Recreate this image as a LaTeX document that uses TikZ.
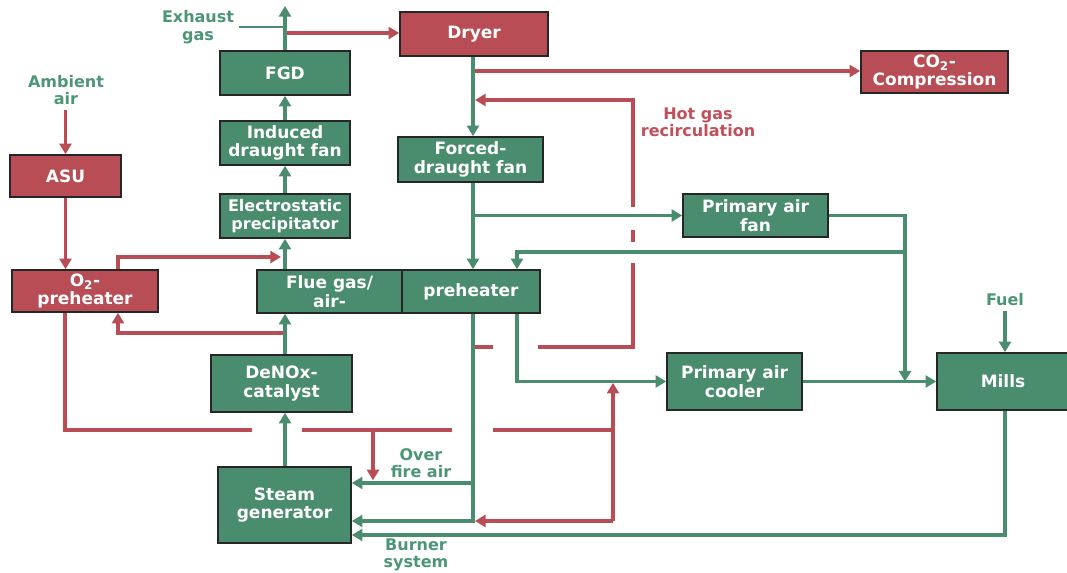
\documentclass[tikz,border=0pt]{standalone}
\usepackage{fontspec}
\setmainfont{DejaVu Sans}
\usetikzlibrary{arrows.meta}
\definecolor{boxred}{HTML}{B84D56}
\definecolor{boxgreen}{HTML}{4A8C6E}
\definecolor{labgreen}{HTML}{4C9676}
\definecolor{labred}{HTML}{C24F5A}

\begin{document}
\begin{tikzpicture}[x=0.75pt, y=-0.75pt,
  box/.style={draw=black!85, line width=1.2pt, text=white, align=center, inner sep=1pt,
    font=\bfseries\fontsize{12.75}{14}\selectfont},
  gbox/.style={box, fill=boxgreen},
  rbox/.style={box, fill=boxred},
  lab/.style={align=center, font=\bfseries\fontsize{12}{13}\selectfont},
  gflow/.style={draw=boxgreen, line width=2.7pt},
  rflow/.style={draw=boxred, line width=2.7pt},
  tip/.style={-{Triangle[length=8pt,width=9pt]}}]
  \useasboundingbox (0,0) rectangle (1067,573);

  % Units
  \node[rbox, minimum width=83.25pt, minimum height=31.5pt] (asu) at (65.5,176) {ASU};
  \node[rbox, minimum width=109.5pt, minimum height=31.5pt] (o2pre) at (85,291) {O\textsubscript{2}-\\preheater};
  \node[gbox, minimum width=97.5pt, minimum height=33pt] (fgd) at (285,73) {FGD};
  \node[gbox, minimum width=97.5pt, minimum height=33pt] (idfan) at (285,143) {Induced\\draught fan};
  \node[gbox, minimum width=97.5pt, minimum height=33pt, font=\bfseries\fontsize{12}{14}\selectfont] (esp) at (285,216) {Electrostatic\\precipitator};
  \node[gbox, minimum width=108.75pt, minimum height=32.25pt] (flue) at (329.5,291.5) {Flue gas/\\air-};
  \node[gbox, minimum width=103.5pt, minimum height=32.25pt] (airpre) at (471,291.5) {preheater};
  \node[gbox, minimum width=105.75pt, minimum height=42.75pt] (denox) at (281.5,383.5) {DeNOx-\\catalyst};
  \node[gbox, minimum width=99.75pt, minimum height=57pt] (steam) at (284.5,505) {Steam\\generator};
  \node[rbox, minimum width=111pt, minimum height=33pt] (dryer) at (474,34) {Dryer};
  \node[rbox, minimum width=110.25pt, minimum height=31.5pt] (co2) at (934.5,72) {CO\textsubscript{2}-\\Compression};
  \node[gbox, minimum width=108.75pt, minimum height=33.75pt] (fdfan) at (470.5,159.5) {Forced-\\draught fan};
  \node[gbox, minimum width=108.75pt, minimum height=32.25pt] (pafan) at (755.5,215.5) {Primary air\\fan};
  \node[gbox, minimum width=101.25pt, minimum height=42.75pt] (pacool) at (734.5,381.5) {Primary air\\cooler};
  \node[gbox, minimum width=99pt, minimum height=42.75pt] (mills) at (1003,381.5) {Mills};

  % Labels
  \node[lab, text=labgreen] (exhaust) at (198,27) {Exhaust\\gas};
  \node[lab, text=labgreen] (ambient) at (66,90) {Ambient\\air};
  \node[lab, text=labred] (hotgas) at (698,122) {Hot gas\\recirculation};
  \node[lab, text=labgreen] (ofa) at (421,463) {Over\\fire air};
  \node[lab, text=labgreen] (burner) at (416,555) {Burner\\system};
  \node[lab, text=labgreen] (fuel) at (1005,300) {Fuel};

  % Columns and bends
  \coordinate (fx) at (285,0);
  \coordinate (gx) at (473,0);
  \coordinate (px) at (517,0);
  \coordinate (mx) at (905,0);
  \coordinate (stack) at (285,6);
  \coordinate (pa2) at (905,252);
  \coordinate (mb) at (1005,535);
  \coordinate (bs) at (473,521);
  \coordinate (of) at (473,483);
  \coordinate (o2a) at (118,257);
  \coordinate (o2b) at (281,257);
  \coordinate (o2c) at (118,333);
  \coordinate (rc1) at (65,430);
  \coordinate (rc2) at (613,430);
  \coordinate (rc3) at (613,521);
  \coordinate (ofa1) at (373,430);
  \coordinate (hg1) at (633,347);
  \coordinate (hg2) at (633,100);
  \coordinate (dr) at (285,33);
  \coordinate (cc) at (473,71);

  % Oxygen and flue gas (red)
  \draw[rflow, tip] (asu.north |- ambient.south) -- (asu.north);
  \draw[rflow, tip] (asu.south) -- (asu.south |- o2pre.north);
  \draw[rflow, tip] (o2a |- o2pre.north) -- (o2a) -- (o2b);
  \draw[rflow, tip] (fx |- o2c) -- (o2c) -- (o2c |- o2pre.south);
  \draw[rflow] (rc1 |- o2pre.south) -- (rc1) -- (rc2);
  \draw[rflow, tip, shorten >=1pt] (rc3) -- (rc3 |- pacool.west);
  \draw[rflow, tip, shorten >=1.5pt] (rc3) -- (gx |- rc3);
  \draw[rflow, tip, shorten >=2pt] (ofa1) -- (ofa1 |- of);
  \draw[rflow, tip, shorten >=1.5pt] (gx |- hg1) -- (hg1) -- (hg2) -- (gx |- hg2);
  \draw[rflow, tip] (dr) -- (dr -| dryer.west);
  \draw[rflow, tip] (cc) -- (cc -| co2.west);

  % Line breaks at crossings
  \fill[white] (252,424) rectangle (302,436);
  \fill[white] (452,424) rectangle (493,436);
  \fill[white] (627,207) rectangle (639,230);
  \fill[white] (627,242) rectangle (639,263);
  \fill[white] (493,341) rectangle (538,353);

  % Air and flue gas (green)
  \draw[boxgreen, line width=0.8pt] (exhaust.east) -- (fx |- exhaust.east);
  \draw[gflow, tip] (fx |- flue.north) -- (esp.south);
  \draw[gflow, tip] (esp.north) -- (idfan.south);
  \draw[gflow, tip] (idfan.north) -- (fgd.south);
  \draw[gflow, tip] (fgd.north) -- (stack);
  \draw[gflow, tip] (fx |- denox.north) -- (fx |- flue.south);
  \draw[gflow, tip] (fx |- steam.north) -- (fx |- denox.south);
  \draw[gflow, tip] (gx |- dryer.south) -- (gx |- fdfan.north);
  \draw[gflow, tip] (gx |- fdfan.south) -- (gx |- airpre.north);
  \draw[gflow, tip] (gx |- pafan.west) -- (pafan.west);
  \draw[gflow, tip] (pafan.east) -| (mx |- mills.west);
  \draw[gflow, tip] (pa2) -| (px |- airpre.north);
  \draw[gflow, tip] (px |- airpre.south) |- (pacool.west);
  \draw[gflow, tip] (pacool.east) -- (mills.west);
  \draw[gflow, tip] (fuel.south) -- (fuel.south |- mills.north);
  \draw[gflow, tip] (mb |- mills.south) -- (mb) -- (mb -| steam.east);
  \draw[gflow, tip] (gx |- airpre.south) -- (bs) -- (bs -| steam.east);
  \draw[gflow, tip] (of) -- (of -| steam.east);
\end{tikzpicture}
\end{document}
